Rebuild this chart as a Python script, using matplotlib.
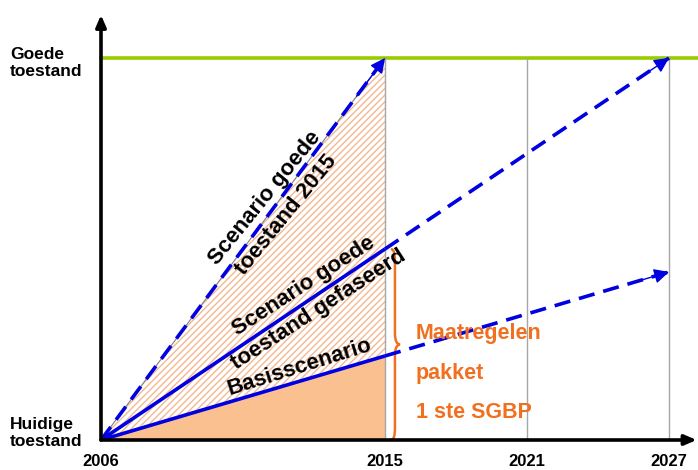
import numpy as np
import matplotlib.pyplot as plt
from matplotlib.path import Path
from matplotlib.patches import PathPatch, Polygon

plt.rcParams['font.family'] = ['Liberation Sans', 'DejaVu Sans']
plt.rcParams['hatch.linewidth'] = 1.0

# data
tick_years = [2006, 2015, 2021, 2027]
scen2015_years = [2006, 2015]
scen2015 = [0.0, 1.0]
phased_years = [2006, 2015, 2027]
phased = [0.0, 0.5, 1.0]
basis_years = [2006, 2015, 2027]
basis = [0.0, 0.22, 0.44]
brace_range = [0.0, 0.5]
measures_lines = ['Maatregelen', 'pakket', '1 ste SGBP']

BLUE = '#0000E0'
ORANGE = '#F07020'


def xp(year):
    # the time axis is not linear: 2006-2015 gets twice the room of later periods
    return np.interp(year, [2006, 2015, 2021, 2027], [0, 2, 3, 4])


def head(ax, x0, y0, x1, y1):
    # small solid arrow head at the end of a dashed line
    ax.annotate('', xy=(x1, y1), xytext=(x0 + 0.9 * (x1 - x0), y0 + 0.9 * (y1 - y0)),
                arrowprops=dict(arrowstyle='-|>,head_length=0.9,head_width=0.45',
                                color=BLUE, lw=1, shrinkA=0, shrinkB=0),
                annotation_clip=False)


fig = plt.figure(figsize=(6.98, 4.70), dpi=100)
ax = fig.add_axes([101 / 698, 30 / 470, 597 / 698, 440 / 470])
ax.set_xlim(0, 597 / 142)
ax.set_ylim(0, 440 / 382)
ax.axis('off')

# target level and year grid
ax.plot([0, 4.25], [1, 1], color='#99CC00', lw=2.6, clip_on=False)
for yr in tick_years[1:]:
    ax.plot([xp(yr), xp(yr)], [0, 1], color='#A6A6A6', lw=1)

# filled areas up to 2015
x15 = xp(2015)
ax.add_patch(Polygon([(0, 0), (x15, basis[1]), (x15, 0)], closed=True,
                     facecolor='#FAC090', edgecolor='none'))
ax.add_patch(Polygon([(0, 0), (x15, scen2015[1]), (x15, basis[1])], closed=True,
                     facecolor='none', edgecolor='#F4B890', lw=0, hatch='/////'))
ax.plot([0, x15], [0, scen2015[1]], color='#808080', lw=0.8)

# scenario lines
sx = xp(np.array(scen2015_years))
ax.plot(sx, scen2015, color=BLUE, lw=2.6, dashes=(4.5, 2.5))
head(ax, sx[0], scen2015[0], sx[1], scen2015[1])

for yrs, vals in [(phased_years, phased), (basis_years, basis)]:
    px = xp(np.array(yrs))
    ax.plot(px[:2], vals[:2], color=BLUE, lw=2.6, solid_capstyle='butt')
    ax.plot(px[1:], vals[1:], color=BLUE, lw=2.6, dashes=(4.5, 2.5))
    head(ax, px[1], vals[1], px[2], vals[2])

# axes arrows
ax.annotate('', xy=(4.195, 0), xytext=(0, 0),
            arrowprops=dict(arrowstyle='-|>,head_length=0.7,head_width=0.3', color='black',
                            lw=2.6, shrinkA=0, shrinkB=0), annotation_clip=False)
ax.annotate('', xy=(0, 1.113), xytext=(0, 0),
            arrowprops=dict(arrowstyle='-|>,head_length=0.7,head_width=0.3', color='black',
                            lw=2.6, shrinkA=0, shrinkB=0), annotation_clip=False)

for yr in tick_years:
    ax.text(xp(yr), -0.055, str(yr), ha='center', va='center', fontsize=12,
            fontweight='bold', clip_on=False)

# brace
lo, hi = brace_range
mid = (lo + hi) / 2
bx, bw, d = 2.042, 0.028, 0.03
verts = [(bx, hi), (bx + bw, hi), (bx + bw, hi - d),
         (bx + bw, mid + d), (bx + bw, mid), (bx + 2.3 * bw, mid),
         (bx + bw, mid), (bx + bw, mid - d),
         (bx + bw, lo + d), (bx + bw, lo), (bx, lo)]
codes = [Path.MOVETO, Path.CURVE3, Path.CURVE3,
         Path.LINETO, Path.CURVE3, Path.CURVE3,
         Path.CURVE3, Path.CURVE3,
         Path.LINETO, Path.CURVE3, Path.CURVE3]
ax.add_patch(PathPatch(Path(verts, codes), facecolor='none', edgecolor=ORANGE, lw=1.8))

for txt, yy in zip(measures_lines, [0.280, 0.175, 0.073]):
    ax.text(2.218, yy, txt, ha='left', va='center', fontsize=15.5, fontweight='bold',
            color=ORANGE)

# scenario labels, centred on their lines
ax.text(1.23, 0.612, 'Scenario goede\ntoestand 2015', rotation=51, rotation_mode='anchor',
        ha='center', va='center', fontsize=16, fontweight='bold', linespacing=1.4)
ax.text(1.48, 0.372, 'Scenario goede\ntoestand gefaseerd', rotation=33, rotation_mode='anchor',
        ha='center', va='center', fontsize=16, fontweight='bold', linespacing=1.4)
ax.text(1.40, 0.19, 'Basisscenario', rotation=17.5, rotation_mode='anchor',
        ha='center', va='center', fontsize=16, fontweight='bold')

# level labels
fig.text(10 / 698, 1 - 63 / 470, 'Goede\ntoestand', ha='left', va='center', fontsize=12.5,
         fontweight='bold', linespacing=1.15)
fig.text(10 / 698, 1 - 433 / 470, 'Huidige\ntoestand', ha='left', va='center', fontsize=12.5,
         fontweight='bold', linespacing=1.2)

fig.savefig('out.png', dpi=100)
